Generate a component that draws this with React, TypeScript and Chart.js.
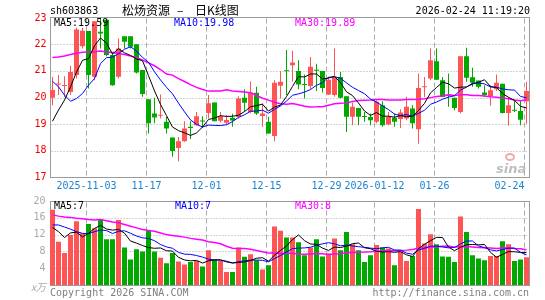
import React, { useEffect, useRef } from 'react';
import { Chart, registerables } from 'chart.js';

Chart.register(...registerables);

// ---- data ----
const dates = [
  '2025-10-24', '2025-10-27', '2025-10-28', '2025-10-29', '2025-10-30', '2025-10-31',
  '2025-11-03', '2025-11-04', '2025-11-05', '2025-11-06', '2025-11-07',
  '2025-11-10', '2025-11-11', '2025-11-12', '2025-11-13', '2025-11-14',
  '2025-11-17', '2025-11-18', '2025-11-19', '2025-11-20', '2025-11-21',
  '2025-11-24', '2025-11-25', '2025-11-26', '2025-11-27', '2025-11-28',
  '2025-12-01', '2025-12-02', '2025-12-03', '2025-12-04', '2025-12-05',
  '2025-12-08', '2025-12-09', '2025-12-10', '2025-12-11', '2025-12-12',
  '2025-12-15', '2025-12-16', '2025-12-17', '2025-12-18', '2025-12-19',
  '2025-12-22', '2025-12-23', '2025-12-24', '2025-12-25', '2025-12-26',
  '2025-12-29', '2025-12-30', '2025-12-31',
  '2026-01-05', '2026-01-06', '2026-01-07', '2026-01-08', '2026-01-09',
  '2026-01-12', '2026-01-13', '2026-01-14', '2026-01-15', '2026-01-16',
  '2026-01-19', '2026-01-20', '2026-01-21', '2026-01-22', '2026-01-23',
  '2026-01-26', '2026-01-27', '2026-01-28', '2026-01-29', '2026-01-30',
  '2026-02-02', '2026-02-03', '2026-02-04', '2026-02-05', '2026-02-06',
  '2026-02-09', '2026-02-10', '2026-02-11', '2026-02-12', '2026-02-13',
  '2026-02-24',
];

const openP = [19.99, 20.49, 20.43, 20.21, 20.84, 21.92, 22.49, 20.78, 22.47, 22.92,
  21.59, 20.78, 22.30, 22.30, 22.00, 21.03, 19.93, 19.40, 19.32, 19.09,
  18.50, 18.11, 18.36, 18.90, 18.96, 19.13, 19.42, 19.81, 19.13, 19.05,
  19.24, 19.27, 19.99, 19.46, 20.18, 19.31, 19.09, 18.56, 20.44, 21.00,
  21.21, 20.99, 20.50, 20.43, 21.04, 20.99, 20.11, 20.09, 20.77, 20.05,
  19.28, 19.61, 19.30, 19.27, 19.09, 19.71, 18.99, 19.24, 19.19, 19.21,
  19.59, 18.81, 20.38, 20.71, 21.36, 20.65, 20.10, 19.99, 19.46, 21.55,
  20.76, 20.64, 20.19, 20.05, 20.31, 20.52, 19.42, 19.52, 19.49, 19.86];

const highP = [20.78, 20.84, 20.80, 21.19, 22.62, 22.62, 22.49, 22.86, 23.00, 22.95,
  21.71, 22.21, 22.30, 22.30, 22.00, 21.03, 19.93, 19.99, 20.11, 19.28,
  18.50, 18.52, 19.11, 19.11, 19.46, 19.30, 20.09, 19.81, 19.46, 19.34,
  19.39, 20.05, 20.31, 20.61, 20.40, 19.78, 19.28, 20.65, 20.99, 21.78,
  21.75, 21.40, 20.86, 21.52, 21.27, 20.99, 20.77, 21.84, 20.96, 20.05,
  19.81, 19.61, 19.46, 19.40, 19.90, 19.86, 19.46, 19.40, 19.56, 20.03,
  19.71, 20.90, 20.77, 21.84, 21.84, 20.77, 20.90, 19.99, 21.55, 21.87,
  21.12, 20.64, 20.46, 20.46, 20.86, 20.52, 20.02, 19.90, 19.90, 20.59];

const lowP = [19.71, 20.09, 20.02, 20.09, 20.71, 21.84, 20.34, 20.65, 21.84, 21.55,
  20.44, 20.71, 21.84, 21.84, 20.90, 20.03, 18.65, 19.03, 19.21, 18.65,
  17.78, 17.61, 18.34, 18.44, 18.94, 18.86, 19.21, 19.11, 19.06, 18.96,
  18.90, 19.21, 19.46, 19.40, 19.34, 18.90, 18.65, 18.36, 19.96, 20.09,
  20.60, 20.31, 19.96, 20.31, 20.24, 20.19, 20.09, 20.03, 19.96, 18.71,
  18.96, 18.96, 19.09, 18.96, 19.03, 18.90, 18.96, 18.90, 18.86, 19.15,
  18.84, 18.27, 20.02, 20.65, 20.67, 20.02, 19.65, 19.52, 19.40, 20.59,
  20.40, 20.34, 20.02, 19.69, 20.24, 19.40, 18.94, 19.46, 18.96, 19.02];

const closeP = [20.28, 20.52, 20.45, 20.96, 22.55, 22.50, 20.84, 22.86, 22.40, 21.59,
  20.46, 21.84, 22.09, 21.90, 20.94, 20.13, 19.03, 19.25, 19.35, 18.84,
  17.99, 18.36, 18.84, 18.86, 19.30, 19.10, 19.78, 19.11, 19.30, 19.16,
  19.14, 19.96, 19.80, 20.19, 19.40, 19.40, 18.65, 20.55, 20.59, 20.98,
  21.31, 20.49, 20.47, 21.15, 21.00, 20.36, 20.67, 20.77, 19.99, 19.28,
  19.65, 19.28, 19.27, 19.15, 19.84, 18.96, 19.27, 19.09, 19.44, 19.65,
  19.03, 20.36, 20.42, 21.40, 20.67, 20.02, 20.07, 19.61, 21.55, 20.74,
  20.55, 20.40, 20.09, 20.27, 20.55, 19.42, 19.71, 19.50, 19.17, 20.24];

const volume = [17.9, 10.3, 7.6, 11.9, 15.2, 12.3, 14.5, 13.5, 15.5, 10.9,
  10.9, 15.5, 8.9, 6.1, 8.5, 8.0, 13.1, 8.0, 6.5, 5.2,
  7.6, 5.6, 4.9, 5.5, 5.7, 4.4, 8.3, 6.0, 5.7, 3.1,
  3.1, 8.9, 6.7, 7.3, 5.9, 3.7, 4.7, 13.9, 12.9, 11.3,
  11.3, 10.2, 7.1, 8.9, 10.9, 6.8, 7.5, 11.1, 8.3, 12.6,
  9.7, 8.3, 5.5, 7.1, 9.5, 8.9, 8.7, 4.7, 7.9, 5.7,
  6.9, 18.1, 9.9, 12.1, 9.7, 6.8, 6.7, 5.5, 16.3, 12.6,
  7.1, 6.3, 5.9, 6.9, 6.9, 10.4, 9.7, 5.7, 6.1, 6.6];

// moving-average values at the start of the window (before enough history)
const ma5Lead = [19.11, 19.53, 19.90, 20.40];
const ma10Lead = [20.61, 20.40, 20.09, 19.86, 19.96, 20.15, 20.46, 20.71, 21.27];
const ma30Lead = [21.50, 21.52, 21.56, 21.61, 21.66, 21.70, 21.71, 21.72, 21.74, 21.71,
  21.69, 21.65, 21.61, 21.56, 21.50, 21.40, 21.30, 21.19, 21.05, 20.88,
  20.84, 20.71, 20.60, 20.48, 20.38, 20.30, 20.24, 20.24, 20.24];
const vma5Lead = [13.7, 12.7, 11.3, 12.4];
const vma10Lead = [14.3, 14.3, 13.8, 13.3, 12.7, 12.3, 12.2, 12.7, 13.1];
const vma30Lead = [16.7, 16.4, 16.2, 16.1, 15.9, 15.8, 15.6, 15.5, 15.6, 15.3,
  15.0, 14.8, 14.4, 14.0, 13.6, 13.2, 13.0, 12.8, 12.4, 12.0,
  11.8, 11.6, 11.4, 11.1, 10.9, 10.7, 10.3, 10.1, 9.8];

const tickIndex = [6, 16, 26, 36, 46, 54, 64, 79];
const tickText = ['2025-11-03', '11-17', '12-01', '12-15', '12-29', '2026-01-12', '01-26', '02-24'];
const priceTicks = [23, 22, 21, 20, 19, 18, 17];
const volTicks = [20, 16, 12, 8, 4];

const stockCode = 'sh603863';
const stockName = '松炀资源';
const titleTail = '日K线图';
const stamp = '2026-02-24 11:19:20';
const priceLegend = ['MA5:19.59', 'MA10:19.98', 'MA30:19.89'];
const volLegend = ['MA5:7', 'MA10:7', 'MA30:8'];

// ---- styles ----
const RED = '#ff5454';
const GREEN = '#00a800';
const C_MA5 = '#000000';
const C_MA10 = '#0000ff';
const C_MA30 = '#ff00ff';
const MONO = '"DejaVu Sans Mono", monospace';
const GRID = '#aaaaaa';
const BORDER = '#9a9a9a';

function movingAvg(vals: number[], n: number, lead: number[]) {
  return vals.map((_, i) => {
    if (i < n - 1) return lead[i];
    let s = 0;
    for (let k = i - n + 1; k <= i; k++) s += vals[k];
    return s / n;
  });
}

const upColors = closeP.map((c, i) => (c >= openP[i] ? RED : GREEN));

function drawFrame(ctx: CanvasRenderingContext2D, chart: any, hVals: number[]) {
  const a = chart.chartArea;
  const x = chart.scales.x;
  const y = chart.scales.y;
  const L = Math.round(a.left) + 0.5;
  const R = Math.floor(a.right) + 0.5;
  const T = Math.floor(a.top) + 0.5;
  const B = Math.floor(a.bottom) + 0.5;
  ctx.save();
  ctx.lineWidth = 1;
  ctx.strokeStyle = GRID;
  ctx.setLineDash([1, 2]);
  for (const v of hVals) {
    const py = Math.round(y.getPixelForValue(v)) + 0.5;
    ctx.beginPath();
    ctx.moveTo(L + 1, py);
    ctx.lineTo(R - 1, py);
    ctx.stroke();
  }
  ctx.setLineDash([5, 3]);
  for (const idx of tickIndex) {
    const px = Math.floor(x.getPixelForValue(idx) - 2) + 0.5;
    ctx.beginPath();
    ctx.moveTo(px, T + 1);
    ctx.lineTo(px, B - 1);
    ctx.stroke();
  }
  ctx.setLineDash([]);
  ctx.strokeStyle = BORDER;
  ctx.strokeRect(L, T, R - L, B - T);
  ctx.restore();
}

const mainDecor = {
  id: 'mainDecor',
  beforeDatasetsDraw(chart: any) {
    const ctx: CanvasRenderingContext2D = chart.ctx;
    drawFrame(ctx, chart, [22, 21, 20, 19, 18]);
    // watermark
    ctx.save();
    ctx.font = 'italic bold 13px "DejaVu Sans", sans-serif';
    ctx.fillStyle = 'rgba(180,180,180,0.85)';
    ctx.textAlign = 'left';
    ctx.textBaseline = 'alphabetic';
    ctx.fillText('sina', 496, 173);
    ctx.strokeStyle = 'rgba(235,150,150,0.8)';
    ctx.lineWidth = 2;
    ctx.beginPath();
    ctx.ellipse(510, 157, 4, 3, 0, 0, Math.PI * 2);
    ctx.stroke();
    ctx.restore();
  },
  afterDatasetsDraw(chart: any) {
    const ctx: CanvasRenderingContext2D = chart.ctx;
    const x = chart.scales.x;
    const y = chart.scales.y;
    ctx.save();
    ctx.textBaseline = 'middle';
    // header
    ctx.fillStyle = '#000';
    ctx.font = '10px ' + MONO;
    ctx.textAlign = 'left';
    ctx.fillText(stockCode, 50, 11);
    ctx.textAlign = 'right';
    ctx.fillText(stamp, 530, 11);
    ctx.font = '12px "Noto Sans CJK SC", sans-serif';
    ctx.textAlign = 'left';
    ctx.fillText(stockName, 122, 10);
    ctx.fillText('–', 177, 10);
    ctx.fillText(titleTail, 195, 10);
    // legend
    ctx.font = '10px ' + MONO;
    ctx.textAlign = 'left';
    ctx.fillStyle = C_MA5;
    ctx.fillText(priceLegend[0], 54, 23.5);
    ctx.fillStyle = C_MA10;
    ctx.fillText(priceLegend[1], 174, 23.5);
    ctx.fillStyle = C_MA30;
    ctx.fillText(priceLegend[2], 295, 23.5);
    // price ticks
    ctx.fillStyle = '#f00000';
    ctx.textAlign = 'right';
    for (const v of priceTicks) {
      let py = y.getPixelForValue(v);
      if (v === 23) py += 1;
      ctx.fillText(String(v), 46.5, py);
    }
    // date ticks
    ctx.fillStyle = '#1a84d4';
    tickIndex.forEach((idx, k) => {
      const px = Math.floor(x.getPixelForValue(idx) - 2) + 0.5;
      if (k === tickIndex.length - 1) {
        ctx.textAlign = 'right';
        ctx.fillText(tickText[k], px, 186.5);
      } else {
        ctx.textAlign = 'center';
        ctx.fillText(tickText[k], px, 186.5);
      }
    });
    ctx.restore();
  },
};

const volDecor = {
  id: 'volDecor',
  beforeDatasetsDraw(chart: any) {
    drawFrame(chart.ctx, chart, [16, 12, 8, 4]);
  },
  afterDatasetsDraw(chart: any) {
    const ctx: CanvasRenderingContext2D = chart.ctx;
    const y = chart.scales.y;
    ctx.save();
    ctx.textBaseline = 'middle';
    ctx.font = '10px ' + MONO;
    ctx.textAlign = 'left';
    ctx.fillStyle = C_MA5;
    ctx.fillText(volLegend[0], 54, 11.5);
    ctx.fillStyle = C_MA10;
    ctx.fillText(volLegend[1], 175, 11.5);
    ctx.fillStyle = C_MA30;
    ctx.fillText(volLegend[2], 295, 11.5);
    ctx.fillStyle = '#a8a8a8';
    ctx.textAlign = 'right';
    for (const v of volTicks) ctx.fillText(String(v), 45.5, y.getPixelForValue(v));
    ctx.font = 'italic 10px "Noto Sans CJK SC", sans-serif';
    ctx.fillText('x万', 46, 92);
    ctx.font = '10px ' + MONO;
    ctx.fillStyle = '#808080';
    ctx.textAlign = 'left';
    ctx.fillText('Copyright 2026 SINA.COM', 50, 98.5);
    ctx.textAlign = 'right';
    ctx.fillText('http://finance.sina.com.cn', 529, 98.5);
    ctx.restore();
  },
};

export default function App() {
  const mainRef = useRef<HTMLCanvasElement>(null);
  const volRef = useRef<HTMLCanvasElement>(null);

  useEffect(() => {
    document.body.style.margin = '0';
    const ma5 = movingAvg(closeP, 5, ma5Lead);
    const ma10 = movingAvg(closeP, 10, ma10Lead);
    const ma30 = movingAvg(closeP, 30, ma30Lead);
    const vma5 = movingAvg(volume, 5, vma5Lead);
    const vma10 = movingAvg(volume, 10, vma10Lead);
    const vma30 = movingAvg(volume, 30, vma30Lead);

    const bodies = openP.map((o, i) => [Math.min(o, closeP[i]), Math.max(o, closeP[i])]);
    const wicks = lowP.map((l, i) => [l, highP[i]]);

    const lineDs = (data: number[], color: string, order: number, width = 1) => ({
      type: 'line' as const,
      data,
      borderColor: color,
      borderWidth: width,
      pointRadius: 0,
      tension: 0,
      fill: false,
      order,
    });

    const common = {
      responsive: false,
      animation: false as const,
      devicePixelRatio: 1,
      events: [] as any[],
      plugins: { legend: { display: false }, tooltip: { enabled: false } },
    };

    const main = new Chart(mainRef.current as HTMLCanvasElement, {
      type: 'bar',
      data: {
        labels: dates,
        datasets: [
          lineDs(ma5, C_MA5, 1),
          lineDs(ma10, C_MA10, 2),
          lineDs(ma30, C_MA30, 3, 1.5),
          {
            type: 'bar',
            data: bodies as any,
            backgroundColor: upColors,
            barThickness: 5,
            grouped: false,
            minBarLength: 1,
            inflateAmount: 0,
            borderWidth: 0,
            order: 10,
          } as any,
          {
            type: 'bar',
            data: wicks as any,
            backgroundColor: upColors,
            barThickness: 1,
            grouped: false,
            inflateAmount: 0,
            borderWidth: 0,
            order: 11,
          } as any,
        ],
      },
      options: {
        ...common,
        layout: { padding: { left: 49.5, right: 15.5, top: 17.5, bottom: 17.5 } },
        scales: {
          x: { display: false, offset: true },
          y: { display: false, min: 17, max: 23 },
        },
      } as any,
      plugins: [mainDecor],
    });

    const vol = new Chart(volRef.current as HTMLCanvasElement, {
      type: 'bar',
      data: {
        labels: dates,
        datasets: [
          lineDs(vma5, C_MA5, 1),
          lineDs(vma10, C_MA10, 2),
          lineDs(vma30, C_MA30, 3, 1.5),
          {
            type: 'bar',
            data: volume,
            backgroundColor: upColors,
            barThickness: 5,
            grouped: false,
            inflateAmount: 0,
            borderWidth: 0,
            order: 10,
          } as any,
        ],
      },
      options: {
        ...common,
        layout: { padding: { left: 49.5, right: 15.5, top: 6, bottom: 15 } },
        scales: {
          x: { display: false, offset: true },
          y: { display: false, min: 0, max: 20 },
        },
      } as any,
      plugins: [volDecor],
    });

    return () => {
      main.destroy();
      vol.destroy();
    };
  }, []);

  return (
    <div style={{ position: 'fixed', left: 0, top: 0, width: 545, height: 300, background: '#fff' }}>
      <canvas ref={mainRef} width={545} height={195}
        style={{ position: 'absolute', left: 0, top: 0, width: 545, height: 195 }} />
      <canvas ref={volRef} width={545} height={105}
        style={{ position: 'absolute', left: 0, top: 195, width: 545, height: 105 }} />
    </div>
  );
}
